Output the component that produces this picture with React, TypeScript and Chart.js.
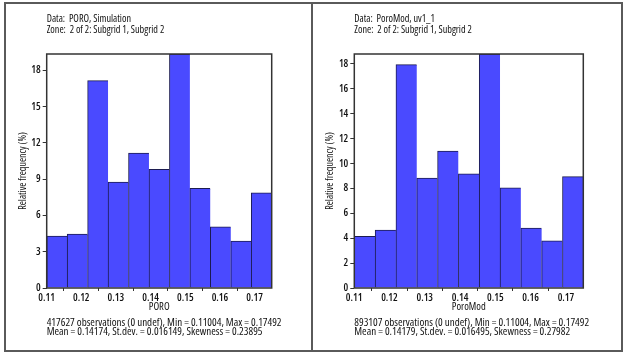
import React, { useEffect, useRef } from "react";
import { Chart, registerables } from "chart.js";
Chart.register(...registerables);

// ---- data ----
const binEdges = [0.11004, 0.11594, 0.12184, 0.12773, 0.13363, 0.13953, 0.14543, 0.15133, 0.15722, 0.16312, 0.16902, 0.17492];
const poroValues = [4.29, 4.46, 17.15, 8.75, 11.15, 9.82, 19.35, 8.24, 5.05, 3.87, 7.86];
const poroModValues = [4.15, 4.66, 17.95, 8.84, 11.01, 9.17, 18.8, 8.04, 4.82, 3.78, 8.95];
const xTickValues = [0.11, 0.12, 0.13, 0.14, 0.15, 0.16, 0.17];
const poroYTicks = [0, 3, 6, 9, 12, 15, 18];
const poroModYTicks = [0, 2, 4, 6, 8, 10, 12, 14, 16, 18];
const poroHeader = ["Data:  PORO, Simulation", "Zone:  2 of 2: Subgrid 1, Subgrid 2"];
const poroModHeader = ["Data:  PoroMod, uv1_1", "Zone:  2 of 2: Subgrid 1, Subgrid 2"];
const poroStats = [
  "417627 observations (0 undef), Min = 0.11004, Max = 0.17492",
  "Mean = 0.14174, St.dev. = 0.016149, Skewness = 0.23895",
];
const poroModStats = [
  "893107 observations (0 undef), Min = 0.11004, Max = 0.17492",
  "Mean = 0.14179, St.dev. = 0.016495, Skewness = 0.27982",
];
const yTitle = "Relative frequency (%)";

const FONT = "'Open Sans', 'DejaVu Sans', sans-serif";
const H = 353;
const PLOT_TOP = 54;
const PLOT_BOTTOM = 288;

const canvasFont = (size: number, weight = "500") => ({ family: FONT, size, lineHeight: 1.2, weight: `${weight} condensed` as any });

const framePlugin = {
  id: "frame",
  afterDatasetsDraw(chart: any) {
    const { ctx, chartArea: a } = chart;
    ctx.save();
    ctx.strokeStyle = "#333";
    ctx.lineWidth = 1.5;
    ctx.strokeRect(a.left, a.top, a.right - a.left, a.bottom - a.top);
    ctx.restore();
  },
};

type PanelProps = {
  pageX: number;
  width: number;
  plotLeft: number;
  plotRight: number;
  values: number[];
  yTicks: number[];
  yMax: number;
  xTitle: string;
  header: string[];
  stats: string[];
};

function Panel(p: PanelProps) {
  const ref = useRef<HTMLCanvasElement>(null);
  useEffect(() => {
    const centers = binEdges.slice(0, -1).map((e, i) => (e + binEdges[i + 1]) / 2);
    const chart = new Chart(ref.current!, {
      type: "bar",
      data: {
        datasets: [
          {
            data: centers.map((c, i) => ({ x: c, y: p.values[i] })),
            backgroundColor: "#4a4aff",
            borderColor: "#1c1c50",
            borderWidth: { top: 1, left: 1, right: 0, bottom: 0 },
            borderSkipped: false,
            barPercentage: 1,
            categoryPercentage: 1,
          } as any,
        ],
      },
      options: {
        animation: false,
        responsive: false,
        devicePixelRatio: 1,
        layout: { padding: { left: 0, top: PLOT_TOP, right: p.width - p.plotRight, bottom: 0 } },
        plugins: { legend: { display: false }, tooltip: { enabled: false }, title: { display: false } },
        scales: {
          x: {
            type: "linear",
            min: binEdges[0],
            max: binEdges[binEdges.length - 1],
            offset: false,
            afterBuildTicks: (s: any) => {
              s.ticks = xTickValues.map((v) => ({ value: v }));
            },
            afterFit: (s: any) => {
              s.height = H - PLOT_BOTTOM;
            },
            border: { display: false },
            grid: { drawOnChartArea: false, drawTicks: true, tickLength: 3, color: "#333" },
            ticks: {
              padding: 1,
              color: "#111",
              maxRotation: 0,
              font: canvasFont(10.5, "600"),
              callback: (v: any) => Number(v).toFixed(2),
            },
            title: {
              display: true,
              text: p.xTitle,
              color: "#111",
              font: canvasFont(10.5),
              padding: { top: 0, bottom: 40 },
            },
          },
          y: {
            type: "linear",
            min: 0,
            max: p.yMax,
            afterBuildTicks: (s: any) => {
              s.ticks = p.yTicks.map((v) => ({ value: v }));
            },
            afterFit: (s: any) => {
              s.width = p.plotLeft;
            },
            border: { display: false },
            grid: { drawOnChartArea: false, drawTicks: true, tickLength: 4, color: "#333" },
            ticks: {
              padding: 2,
              color: "#111",
              font: canvasFont(10.5, "600"),
              callback: (v: any) => String(v),
            },
            title: {
              display: true,
              text: yTitle,
              color: "#111",
              font: canvasFont(10),
              padding: { top: p.plotLeft - 23.8 - 6, bottom: 0 },
            },
          },
        },
      } as any,
      plugins: [framePlugin],
    });
    return () => chart.destroy();
  }, []);

  const textStyle: React.CSSProperties = {
    position: "absolute",
    left: p.plotLeft,
    fontFamily: FONT,
    fontStretch: "condensed",
    color: "#111",
    whiteSpace: "pre",
  };

  return (
    <div style={{ position: "absolute", left: p.pageX, top: 0, width: p.width, height: H }}>
      <canvas ref={ref} width={p.width} height={H} style={{ position: "absolute", left: 0, top: 0, width: p.width, height: H }} />
      <div style={{ ...textStyle, top: 13, lineHeight: "10.7px", fontSize: 10.2 }}>
        {p.header.map((t, i) => (
          <div key={i}>{t}</div>
        ))}
      </div>
      <div style={{ ...textStyle, top: 318, lineHeight: "8.6px", fontSize: 11, fontWeight: 500 }}>
        {p.stats.map((t, i) => (
          <div key={i}>{t}</div>
        ))}
      </div>
    </div>
  );
}

export default function App() {
  return (
    <div style={{ position: "absolute", left: 0, top: 0, width: 625, height: H, background: "#fff", overflow: "hidden" }}>
      <div style={{ position: "absolute", left: 4, top: 2, width: 309, height: 350, border: "2px solid #5a5a5a", boxSizing: "border-box" }} />
      <div style={{ position: "absolute", left: 311, top: 2, width: 312, height: 350, border: "2px solid #5a5a5a", boxSizing: "border-box" }} />
      <Panel
        pageX={4}
        width={308}
        plotLeft={42.7}
        plotRight={267.7}
        values={poroValues}
        yTicks={poroYTicks}
        yMax={19.35}
        xTitle="PORO"
        header={poroHeader}
        stats={poroStats}
      />
      <Panel
        pageX={312}
        width={310}
        plotLeft={42.3}
        plotRight={271.3}
        values={poroModValues}
        yTicks={poroModYTicks}
        yMax={18.8}
        xTitle="PoroMod"
        header={poroModHeader}
        stats={poroModStats}
      />
    </div>
  );
}
